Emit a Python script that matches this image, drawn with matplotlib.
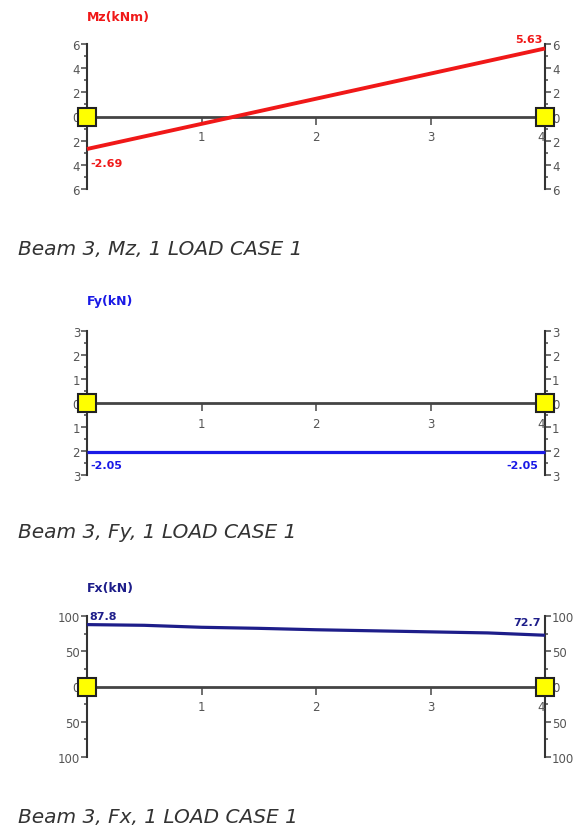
import numpy as np
import matplotlib
matplotlib.use("Agg")
import matplotlib.pyplot as plt
from matplotlib.ticker import MultipleLocator, FuncFormatter

plt.rcParams['font.family'] = ['DejaVu Sans']

# beam positions (m) and internal forces
mz_x = [0, 4]
mz_y = [-2.69, 5.63]
fy_x = [0, 4]
fy_y = [-2.05, -2.05]
fx_x = [0, 0.5, 1, 1.5, 2, 2.5, 3, 3.5, 4]
fx_y = [87.8, 86.8, 84.0, 82.5, 80.5, 79.0, 77.5, 76.0, 72.7]

x_ticks = [1, 2, 3, 4]
titles = ["Mz(kNm)", "Fy(kN)", "Fx(kN)"]
captions = ["Beam 3, Mz, 1 LOAD CASE 1", "Beam 3, Fy, 1 LOAD CASE 1", "Beam 3, Fx, 1 LOAD CASE 1"]

W, H = 573, 829
fig = plt.figure(figsize=(W / 100, H / 100), dpi=100)
tick_col = '#555555'
axis_col = '#333333'


def fx(px):
    return px / W


def fy(py):
    return 1 - py / H


def panel(top, bottom, x, y, color, lw, lim, major, minor, title, title_y, caption, cap_y, labels):
    """ one diagram: beam axis at zero, value scales on both ends """
    ax = fig.add_axes([fx(87), fy(bottom), fx(545) - fx(87), (bottom - top) / H])
    ax.set_xlim(0, 4)
    ax.set_ylim(-lim, lim)
    for s in ['top', 'right']:
        ax.spines[s].set_visible(False)
    ax.spines['bottom'].set_position(('data', 0))
    ax.spines['bottom'].set_color('#444444')
    ax.spines['bottom'].set_linewidth(2)
    ax.spines['left'].set_color(axis_col)
    ax.spines['left'].set_linewidth(1.5)

    ax.set_xticks(x_ticks)
    ax.set_xticklabels([str(t) for t in x_ticks])
    ax.tick_params(axis='x', direction='out', length=6, width=1.2, colors=tick_col,
                   labelsize=8.5, pad=4)
    ax.get_xticklabels()[-1].set_horizontalalignment('right')

    fmt = FuncFormatter(lambda v, p: '%g' % abs(v))
    ax.yaxis.set_major_locator(MultipleLocator(major))
    ax.yaxis.set_minor_locator(MultipleLocator(minor))
    ax.yaxis.set_major_formatter(fmt)
    ax.tick_params(axis='y', which='major', direction='out', length=4, width=1.2,
                   colors=tick_col, labelsize=8.5, pad=1)
    ax.tick_params(axis='y', which='minor', direction='out', length=2.5, width=1.2, color=tick_col)

    sec = ax.secondary_yaxis('right')
    sec.yaxis.set_major_locator(MultipleLocator(major))
    sec.yaxis.set_minor_locator(MultipleLocator(minor))
    sec.yaxis.set_major_formatter(fmt)
    sec.tick_params(axis='y', which='major', direction='out', length=4, width=1.2,
                    colors=tick_col, labelsize=8.5, pad=1)
    sec.tick_params(axis='y', which='minor', direction='out', length=2.5, width=1.2, color=tick_col)
    sec.spines['right'].set_color(axis_col)
    sec.spines['right'].set_linewidth(1.5)

    ax.plot(x, y, color=color, lw=lw, zorder=3, clip_on=False, solid_capstyle='butt')
    ax.plot([0, 4], [0, 0], ls='none', marker='s', ms=13, mfc='#ffff00', mec='#222222',
            mew=1.5, zorder=6, clip_on=False)

    for (tx, ty, txt, ha) in labels:
        fig.text(fx(tx), fy(ty), txt, color=color, fontsize=8, fontweight='bold',
                 ha=ha, va='center')

    fig.text(fx(87), fy(title_y), title, color=color, fontsize=9, fontweight='bold',
             ha='left', va='center')
    fig.text(fx(18), fy(cap_y), caption, color='#333333', fontsize=14.5, style='italic',
             ha='left', va='center')
    return ax


panel(45, 190, mz_x, mz_y, '#f01818', 2.8, 6, 2, 1, titles[0], 17, captions[0], 250,
      [(90, 164, '%.2f' % mz_y[0], 'left'), (543, 40, '%.2f' % mz_y[1], 'right')])
panel(332, 476, fy_x, fy_y, '#1a1ae6', 2.3, 3, 1, 0.5, titles[1], 302, captions[1], 533,
      [(90, 466, '%.2f' % fy_y[0], 'left'), (538, 466, '%.2f' % fy_y[1], 'right')])
panel(617, 758, fx_x, fx_y, '#1e1e8a', 2.3, 100, 50, 25, titles[2], 589, captions[2], 818,
      [(89, 617, '%.1f' % fx_y[0], 'left'), (541, 623, '%.1f' % fx_y[-1], 'right')])

fig.savefig('out.png', dpi=100)
